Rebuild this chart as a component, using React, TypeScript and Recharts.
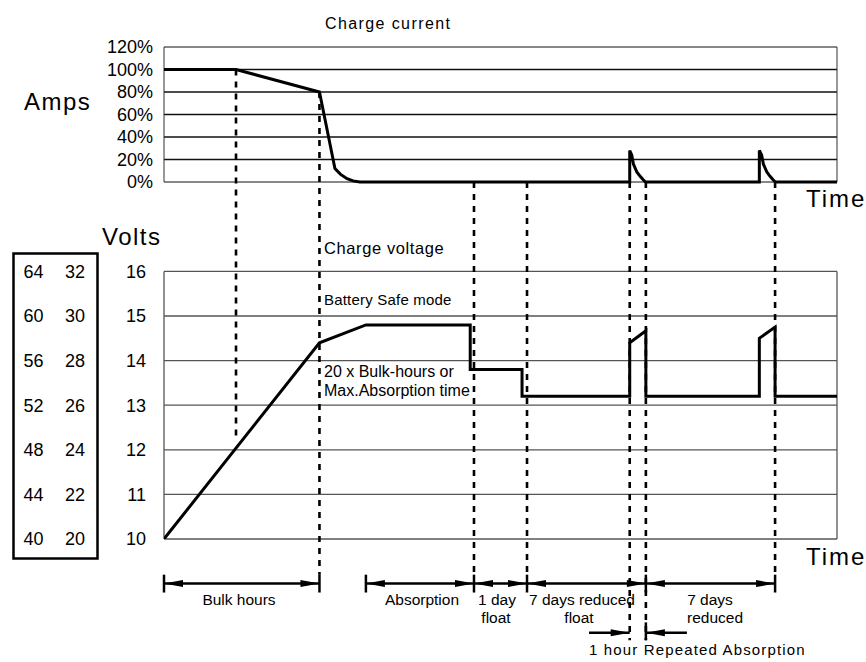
import React from 'react';
import { LineChart, Line, XAxis, YAxis, ReferenceLine } from 'recharts';

const FONT = '"Liberation Sans", Arial, Helvetica, sans-serif';

// time runs 0..100 across the plot
const currentData = [
  { t: 0, a: 100 }, { t: 10.7, a: 100 }, { t: 23.1, a: 80 }, { t: 25.4, a: 12 },
  { t: 26.2, a: 7 }, { t: 27.2, a: 3 }, { t: 28.1, a: 1 }, { t: 29.1, a: 0 },
  { t: 69.2, a: 0 }, { t: 69.2, a: 28 }, { t: 69.5, a: 24 }, { t: 69.75, a: 16 },
  { t: 70.25, a: 9 }, { t: 70.75, a: 5 }, { t: 71.2, a: 2 }, { t: 71.55, a: 0 },
  { t: 88.46, a: 0 }, { t: 88.46, a: 28 }, { t: 88.8, a: 24 }, { t: 89.06, a: 16 },
  { t: 89.56, a: 9 }, { t: 90.05, a: 5 }, { t: 90.5, a: 2 }, { t: 90.85, a: 0 },
  { t: 100, a: 0 },
];

const voltageData = [
  { t: 0, v: 10 }, { t: 23.1, v: 14.4 }, { t: 30, v: 14.8 }, { t: 45.5, v: 14.8 },
  { t: 45.5, v: 13.8 }, { t: 53.2, v: 13.8 }, { t: 53.2, v: 13.2 }, { t: 69.2, v: 13.2 },
  { t: 69.2, v: 14.4 }, { t: 71.6, v: 14.67 }, { t: 71.6, v: 13.2 }, { t: 88.46, v: 13.2 },
  { t: 88.46, v: 14.5 }, { t: 90.8, v: 14.75 }, { t: 90.8, v: 13.2 }, { t: 100, v: 13.2 },
];

const ampTicks = [0, 20, 40, 60, 80, 100, 120];
const voltTicks = [10, 11, 12, 13, 14, 15, 16];
const volt24Ticks = [20, 22, 24, 26, 28, 30, 32];
const volt48Ticks = [40, 44, 48, 52, 56, 60, 64];

// event times (dashed markers) and where they start / stop
const markers = [
  { t: 10.7, fromAmp: 100, toVolt: 12.3 },
  { t: 23.1, fromAmp: 80, toVolt: 9.2 },
  { t: 46.06, fromAmp: 0, toVolt: 9.2 },
  { t: 53.94, fromAmp: 0, toVolt: 9.2 },
  { t: 69.2, fromAmp: 0, toVolt: 7.73 },
  { t: 71.6, fromAmp: 0, toVolt: 7.73 },
  { t: 90.8, fromAmp: 0, toVolt: 9.2 },
];

// phase spans under the chart
const phases = [
  { from: 0, to: 23.1 },
  { from: 30, to: 46.06 },
  { from: 46.06, to: 53.94 },
  { from: 53.94, to: 71.6 },
  { from: 71.6, to: 90.8 },
];
const phaseBars = [0, 23.1, 30, 46.06, 53.94, 71.6, 90.8];
const ROW1 = 9.0;
const ROW2 = 7.9;

// both panels share one plot area; axes are stretched so each panel sits in its place
const VOLT_MIN = 10;
const VOLT_MAX = 10 + 492 / 44.6;
const AMP_MAX = 120;
const AMP_MIN = 120 - 492 / 1.125;
const a2v = (a: number) =>
  VOLT_MAX - ((AMP_MAX - a) / (AMP_MAX - AMP_MIN)) * (VOLT_MAX - VOLT_MIN);

const arrowShape = (startHead: boolean, endHead: boolean) => (p: any) => {
  const { x1, y1, x2, y2 } = p;
  const dir = x2 > x1 ? 1 : -1;
  const L = 19;
  const H = 3.5;
  return (
    <g>
      <line x1={x1} y1={y1} x2={x2} y2={y2} stroke="#000" strokeWidth={2.5} />
      {startHead && (
        <polygon points={`${x1},${y1} ${x1 + dir * L},${y1 - H} ${x1 + dir * L},${y1 + H}`} fill="#000" />
      )}
      {endHead && (
        <polygon points={`${x2},${y2} ${x2 - dir * L},${y2 - H} ${x2 - dir * L},${y2 + H}`} fill="#000" />
      )}
    </g>
  );
};

const dashShape = (p: any) => (
  <line x1={p.x1} y1={p.y1} x2={p.x2} y2={p.y2} stroke="#000" strokeWidth={2.6} strokeDasharray="6 6" />
);

const tickStyle = { fill: '#000', fontSize: 18, fontFamily: FONT };

type T = { x: number; y: number; s: string; size?: number; ls?: number; anchor?: 'start' | 'middle' | 'end' };
const texts: T[] = [
  { x: 325, y: 29, s: 'Charge current', size: 16, ls: 1.4 },
  { x: 24, y: 110, s: 'Amps', size: 24, ls: 1.5 },
  { x: 806, y: 207, s: 'Time', size: 24, ls: 2 },
  { x: 102, y: 245, s: 'Volts', size: 24, ls: 1.5 },
  { x: 324, y: 254, s: 'Charge voltage', size: 16.5, ls: 0.6 },
  { x: 324, y: 305, s: 'Battery Safe mode', size: 15, ls: 0.2 },
  { x: 324, y: 377, s: '20 x Bulk-hours or', size: 16 },
  { x: 324, y: 396, s: 'Max.Absorption time', size: 16 },
  { x: 806, y: 565, s: 'Time', size: 24, ls: 2 },
  { x: 239, y: 605, s: 'Bulk hours', anchor: 'middle' },
  { x: 422, y: 605, s: 'Absorption', anchor: 'middle' },
  { x: 497, y: 605, s: '1 day', anchor: 'middle' },
  { x: 496, y: 623, s: 'float', anchor: 'middle' },
  { x: 582, y: 605, s: '7 days reduced', anchor: 'middle' },
  { x: 579, y: 623, s: 'float', anchor: 'middle' },
  { x: 710, y: 605, s: '7 days', anchor: 'middle' },
  { x: 715, y: 623, s: 'reduced', anchor: 'middle' },
  { x: 589, y: 655, s: '1 hour Repeated Absorption', size: 15, ls: 1.15 },
];

export default function App() {
  return (
    <div style={{ position: 'absolute', left: 0, top: 0, width: 866, height: 662, background: '#fff' }}>
      <LineChart width={866} height={662} margin={{ top: 47, right: 29, bottom: 123, left: 0 }}>
        <XAxis type="number" dataKey="t" domain={[0, 100]} allowDataOverflow hide />
        <YAxis yAxisId="y1amp" width={1} type="number" domain={[AMP_MIN, AMP_MAX]} allowDataOverflow
          ticks={ampTicks} interval={0} tickFormatter={(v) => `${v}%`} axisLine={false} tickLine={false}
          tickSize={0} tickMargin={11} tick={tickStyle} />
        <YAxis yAxisId="y2volt" width={60} type="number" domain={[VOLT_MIN, VOLT_MAX]} allowDataOverflow
          ticks={voltTicks} interval={0} axisLine={false} tickLine={false} tickSize={0} tickMargin={17} tick={tickStyle} />
        <YAxis yAxisId="y3v24" width={40} type="number" domain={[20, 20 + 2 * (VOLT_MAX - 10)]} allowDataOverflow
          ticks={volt24Ticks} interval={0} axisLine={false} tickLine={false} tickSize={0} tickMargin={18} tick={tickStyle} />
        <YAxis yAxisId="y4v48" width={63} type="number" domain={[40, 40 + 4 * (VOLT_MAX - 10)]} allowDataOverflow
          ticks={volt48Ticks} interval={0} axisLine={false} tickLine={false} tickSize={0} tickMargin={19.5} tick={tickStyle} />

        {ampTicks.map((a) => (
          <ReferenceLine key={'ag' + a} yAxisId="y1amp" y={a} stroke="#111" strokeWidth={a === 0 || a === 120 ? 1 : 1.4} />
        ))}
        {[0, 100].map((t) => (
          <ReferenceLine key={'ab' + t} yAxisId="y1amp" segment={[{ x: t, y: 0 }, { x: t, y: 120 }]} stroke="#333" strokeWidth={1} />
        ))}
        {voltTicks.map((v) => (
          <ReferenceLine key={'vg' + v} yAxisId="y2volt" y={v} stroke="#555" strokeWidth={1.3} />
        ))}
        {[0, 100].map((t) => (
          <ReferenceLine key={'vb' + t} yAxisId="y2volt" segment={[{ x: t, y: 10 }, { x: t, y: 16 }]} stroke="#555" strokeWidth={1.3} />
        ))}

        {markers.map((m) => (
          <ReferenceLine key={'m' + m.t} yAxisId="y2volt" ifOverflow="visible"
            segment={[{ x: m.t, y: a2v(m.fromAmp) }, { x: m.t, y: m.toVolt }]} shape={dashShape} />
        ))}

        <Line yAxisId="y1amp" data={currentData} dataKey="a" type="linear" stroke="#000" strokeWidth={3}
          dot={false} isAnimationActive={false} />
        <Line yAxisId="y2volt" data={voltageData} dataKey="v" type="linear" stroke="#000" strokeWidth={3}
          dot={false} isAnimationActive={false} />

        {phases.map((p) => (
          <ReferenceLine key={'p' + p.from} yAxisId="y2volt" ifOverflow="visible"
            segment={[{ x: p.from, y: ROW1 }, { x: p.to, y: ROW1 }]} shape={arrowShape(true, true)} />
        ))}
        {phaseBars.map((t) => (
          <ReferenceLine key={'pb' + t} yAxisId="y2volt" ifOverflow="visible"
            segment={[{ x: t, y: 9.2 }, { x: t, y: 8.8 }]} stroke="#000" strokeWidth={2.5} />
        ))}
        <ReferenceLine yAxisId="y2volt" ifOverflow="visible"
          segment={[{ x: 63.15, y: ROW2 }, { x: 69.2, y: ROW2 }]} shape={arrowShape(false, true)} />
        <ReferenceLine yAxisId="y2volt" ifOverflow="visible"
          segment={[{ x: 77.7, y: ROW2 }, { x: 71.6, y: ROW2 }]} shape={arrowShape(false, true)} />
        <ReferenceLine yAxisId="y2volt" ifOverflow="visible"
          segment={[{ x: 71.6, y: 8.13 }, { x: 71.6, y: 7.73 }]} stroke="#000" strokeWidth={2.5} />
      </LineChart>

      <svg width={866} height={662} style={{ position: 'absolute', left: 0, top: 0, pointerEvents: 'none' }}>
        <rect x={13.5} y={253.5} width={84} height={305} fill="none" stroke="#000" strokeWidth={2.5} />
        {texts.map((t, i) => (
          <text key={i} x={t.x} y={t.y} fontSize={t.size ?? 15.5} fontFamily={FONT} letterSpacing={t.ls ?? 0}
            textAnchor={t.anchor ?? 'start'} fill="#000">
            {t.s}
          </text>
        ))}
      </svg>
    </div>
  );
}
